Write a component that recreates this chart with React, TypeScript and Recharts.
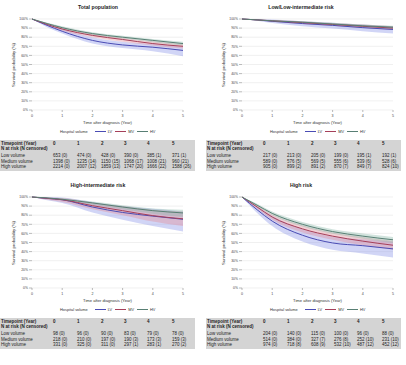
import React from 'react';
import { ComposedChart, Area, Line, XAxis, YAxis, CartesianGrid } from 'recharts';

const times = [0, 0.5, 1, 2, 3, 4, 5];
const yearTicks = [0, 1, 2, 3, 4, 5];
const pctTicks = [0, 10, 20, 30, 40, 50, 60, 70, 80, 90, 100];
const timepoints = ['0', '1', '2', '3', '4', '5'];

// Total population (survival %, with 95% CI)
const totHV = [100, 95, 90.5, 84, 80, 76.5, 73];
const totHVLo = [100, 94, 89, 82.5, 78.5, 74.5, 71];
const totHVHi = [100, 96, 92, 85.5, 81.5, 78, 75];
const totMV = [100, 94, 89, 82, 77.5, 73, 70];
const totMVLo = [100, 93, 87, 80, 75, 71, 67.5];
const totMVHi = [100, 95.5, 91, 84, 79.5, 75.5, 72.5];
const totLV = [100, 93, 86.5, 76.5, 71.5, 69, 65.5];
const totLVLo = [100, 91, 84, 73, 68, 64.5, 59];
const totLVHi = [100, 95, 89, 80, 75, 72.5, 69.5];

// Low/Low-intermediate risk
const lowHV = [100, 99, 98, 96.5, 94.5, 92.5, 91];
const lowHVLo = [100, 98.5, 97, 95.5, 93, 91, 89];
const lowHVHi = [100, 99.5, 99, 97.5, 96, 94, 92.5];
const lowMV = [100, 99, 98, 96, 94, 92, 90];
const lowMVLo = [100, 98.5, 97, 94.5, 92.5, 90, 88];
const lowMVHi = [100, 99.5, 99, 97.5, 95.5, 94, 92];
const lowLV = [100, 99, 97.5, 95, 93, 90.5, 88.5];
const lowLVLo = [100, 98, 95.5, 92, 89.5, 86.5, 84];
const lowLVHi = [100, 100, 99.5, 97.5, 96, 94, 92];

// High-intermediate risk
const hiiHV = [100, 99, 97.5, 93.5, 89, 85, 82.5];
const hiiHVLo = [100, 98.5, 96.5, 91.5, 86.5, 81.5, 78];
const hiiHVHi = [100, 99.5, 98.5, 95, 91, 87.5, 86];
const hiiMV = [100, 98.5, 97, 90.5, 85, 79.5, 76];
const hiiMVLo = [100, 97, 94.5, 86.5, 80, 73, 68];
const hiiMVHi = [100, 99.5, 99, 94, 90, 86, 84];
const hiiLV = [100, 98.5, 97, 89, 83, 79, 75.5];
const hiiLVLo = [100, 96.5, 93.5, 83, 75, 68, 62];
const hiiLVHi = [100, 100, 99.5, 94.5, 90, 87, 84];

// High risk
const hrHV = [100, 91, 82, 70, 62, 57, 53];
const hrHVLo = [100, 89.5, 80, 67.5, 59.5, 54, 49.5];
const hrHVHi = [100, 92.5, 84, 72.5, 64.5, 60, 56];
const hrMV = [100, 89, 78, 65, 57, 51.5, 47];
const hrMVLo = [100, 87, 75, 61, 53, 47, 42];
const hrMVHi = [100, 91, 81, 69, 61, 56, 52];
const hrLV = [100, 86, 73.5, 58, 49.5, 46.5, 43];
const hrLVLo = [100, 82.5, 68, 51, 42, 38, 33.5];
const hrLVHi = [100, 89.5, 79.5, 64.5, 56.5, 53.5, 51];

// Number at risk (censored)
const totLow = ['653 (0)', '474 (0)', '428 (0)', '390 (0)', '385 (1)', '371 (1)'];
const totMed = ['1398 (0)', '1235 (14)', '1150 (15)', '1068 (17)', '1008 (21)', '960 (21)'];
const totHigh = ['2214 (0)', '2007 (12)', '1859 (13)', '1747 (20)', '1666 (22)', '1588 (26)'];
const lowLow = ['217 (0)', '213 (0)', '205 (0)', '199 (0)', '195 (1)', '192 (1)'];
const lowMed = ['589 (0)', '576 (5)', '569 (5)', '555 (6)', '539 (6)', '528 (6)'];
const lowHigh = ['905 (0)', '899 (2)', '891 (2)', '870 (7)', '849 (7)', '824 (10)'];
const hiiLow = ['98 (0)', '96 (0)', '90 (0)', '83 (0)', '79 (0)', '78 (0)'];
const hiiMed = ['218 (0)', '210 (0)', '197 (0)', '190 (3)', '173 (3)', '159 (3)'];
const hiiHigh = ['331 (0)', '325 (0)', '311 (0)', '297 (1)', '283 (1)', '270 (2)'];
const hrLow = ['204 (0)', '140 (0)', '115 (0)', '100 (0)', '96 (0)', '88 (0)'];
const hrMed = ['514 (0)', '384 (0)', '327 (7)', '276 (8)', '252 (10)', '231 (10)'];
const hrHigh = ['974 (0)', '718 (8)', '608 (9)', '532 (10)', '487 (12)', '452 (12)'];

const COLORS = {
  lv: { line: '#4a4cb4', band: '#8d96e8' },
  mv: { line: '#a5405a', band: '#e38c99' },
  hv: { line: '#587f74', band: '#8db8aa' },
};
const FONT = '"Liberation Sans", Arial, sans-serif';

const buildRows = (s: number[][]) =>
  times.map((t, i) => ({
    t,
    hv: s[0][i], hvBand: [s[1][i], s[2][i]],
    mv: s[3][i], mvBand: [s[4][i], s[5][i]],
    lv: s[6][i], lvBand: [s[7][i], s[8][i]],
  }));

const Legend = () => (
  <div style={{ display: 'flex', alignItems: 'center', fontSize: 3.9, color: '#333', whiteSpace: 'nowrap' }}>
    <span style={{ marginRight: 7 }}>Hospital volume</span>
    {(['lv', 'mv', 'hv'] as const).map((k) => (
      <span key={k} style={{ display: 'flex', alignItems: 'center', marginRight: 3 }}>
        <span style={{ width: 11, height: 1, background: COLORS[k].line, marginRight: 2 }} />
        {k.toUpperCase()}
      </span>
    ))}
  </div>
);

const RiskTable = ({ rows, plotLeft, left }: { rows: string[][]; plotLeft: number; left: number }) => {
  const cols = [21, 45, 69, 92, 115, 140].map((c) => plotLeft + c - left);
  const labels = ['Low volume', 'Medium volume', 'High volume'];
  const rowY = [15.5, 21, 26.5];
  return (
    <div style={{ position: 'absolute', left, top: 140, width: 195, height: 31, background: '#d4d4d4', fontSize: 4.5, color: '#222' }}>
      <span style={{ position: 'absolute', left: 1, top: 0.5, fontWeight: 'bold' }}>Timepoint (Year)</span>
      <span style={{ position: 'absolute', left: 1, top: 6, fontWeight: 'bold' }}>N at risk (N censored)</span>
      {timepoints.map((tp, j) => (
        <span key={tp} style={{ position: 'absolute', left: cols[j], top: 0.5, fontWeight: 'bold' }}>{tp}</span>
      ))}
      {rows.map((r, i) => (
        <React.Fragment key={i}>
          <span style={{ position: 'absolute', left: 1, top: rowY[i] - 2.5 }}>{labels[i]}</span>
          {r.map((v, j) => (
            <span key={j} style={{ position: 'absolute', left: cols[j], top: rowY[i] - 2.5 }}>{v}</span>
          ))}
        </React.Fragment>
      ))}
    </div>
  );
};

const Panel = ({ left, top, plotLeft, title, series, table, tableLeft }: any) => {
  const plotRight = plotLeft + 151;
  const data = buildRows(series);
  return (
    <div style={{ position: 'absolute', left, top, width: 203, height: 180, fontFamily: FONT }}>
      <div style={{ position: 'absolute', left: 0, width: 196, top: 3.5, textAlign: 'center', fontWeight: 'bold', fontSize: 5.2, color: '#222' }}>{title}</div>
      <div style={{ position: 'absolute', left: plotLeft - 19, top: 64.5, width: 0, height: 0 }}>
        <div style={{ position: 'absolute', transform: 'translate(-50%, -50%) rotate(-90deg)', whiteSpace: 'nowrap', fontSize: 4.3, color: '#333' }}>
          Survival probability (%)
        </div>
      </div>
      <ComposedChart width={203} height={128} data={data} margin={{ top: 19, right: 203 - plotRight, bottom: 4, left: plotLeft - 30 }} style={{ position: 'absolute', left: 0, top: 0 }}>
        <CartesianGrid vertical={false} stroke="#e6e6e6" strokeWidth={0.6} />
        <XAxis
          dataKey="t" type="number" domain={[0, 5]} ticks={yearTicks} height={14}
          axisLine={false} tickSize={2} tickLine={{ stroke: '#777', strokeWidth: 0.5 }}
          tick={{ fontSize: 3.6, fill: '#444', fontFamily: FONT }}
          label={{ value: 'Time after diagnosis (Year)', position: 'insideBottom', offset: 0, fontSize: 4.1, fill: '#333', fontFamily: FONT }}
        />
        <YAxis
          type="number" domain={[0, 100]} ticks={pctTicks} width={30} interval={0}
          axisLine={false} tickSize={3} tickMargin={1} tickLine={{ stroke: '#777', strokeWidth: 0.5 }}
          tick={{ fontSize: 3.4, fill: '#444', fontFamily: FONT }} tickFormatter={(v: number) => `${v}%`}
        />
        {(['lv', 'mv', 'hv'] as const).map((k) => (
          <Area key={k + 'b'} type="monotone" dataKey={k + 'Band'} stroke="none" fill={COLORS[k].band} fillOpacity={0.4} isAnimationActive={false} />
        ))}
        {(['lv', 'mv', 'hv'] as const).map((k) => (
          <Line key={k} type="monotone" dataKey={k} stroke={COLORS[k].line} strokeWidth={1} dot={false} isAnimationActive={false} />
        ))}
      </ComposedChart>
      <div style={{ position: 'absolute', left: plotLeft + 28, top: 128.5 }}>
        <Legend />
      </div>
      <RiskTable rows={table} plotLeft={plotLeft} left={tableLeft} />
    </div>
  );
};

export default function App() {
  return (
    <div style={{ position: 'absolute', left: 0, top: 0, width: 406, height: 365, background: '#fff', overflow: 'hidden' }}>
      <Panel left={0} top={0} plotLeft={32} tableLeft={0} title="Total population"
        series={[totHV, totHVLo, totHVHi, totMV, totMVLo, totMVHi, totLV, totLVLo, totLVHi]}
        table={[totLow, totMed, totHigh]} />
      <Panel left={203} top={0} plotLeft={39} tableLeft={3} title="Low/Low-intermediate risk"
        series={[lowHV, lowHVLo, lowHVHi, lowMV, lowMVLo, lowMVHi, lowLV, lowLVLo, lowLVHi]}
        table={[lowLow, lowMed, lowHigh]} />
      <Panel left={0} top={178} plotLeft={32} tableLeft={0} title="High-intermediate risk"
        series={[hiiHV, hiiHVLo, hiiHVHi, hiiMV, hiiMVLo, hiiMVHi, hiiLV, hiiLVLo, hiiLVHi]}
        table={[hiiLow, hiiMed, hiiHigh]} />
      <Panel left={203} top={178} plotLeft={39} tableLeft={3} title="High risk"
        series={[hrHV, hrHVLo, hrHVHi, hrMV, hrMVLo, hrMVHi, hrLV, hrLVLo, hrLVHi]}
        table={[hrLow, hrMed, hrHigh]} />
    </div>
  );
}
